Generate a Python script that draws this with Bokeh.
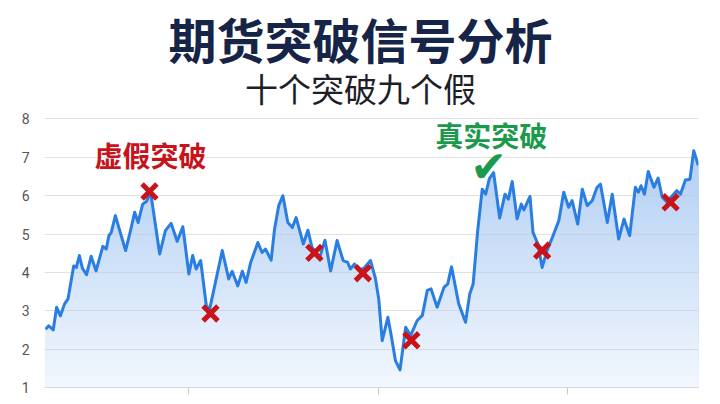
import numpy as np
from bokeh.plotting import figure
from bokeh.models import Range1d, FixedTicker
from bokeh.core.properties import value
from bokeh.embed import file_html
from bokeh.resources import INLINE

# ---- data ----
days = [0.3, 1.1, 2.3, 3.2, 4.2, 5.3, 6.2, 7.7, 8.4, 9.2, 10.0, 11.1, 12.3, 13.6, 15.4, 16.3,
        17.0, 17.6, 18.7, 21.4, 22.7, 23.8, 24.7, 25.9, 26.9, 28.0, 30.4, 31.9, 33.4, 35.0,
        36.5, 38.1, 39.1, 40.0, 41.2, 42.7, 43.6, 46.9, 48.6, 49.5, 51.0, 52.2, 53.2, 54.4,
        56.3, 57.4, 58.3, 59.8, 60.7, 61.8, 62.9, 64.2, 65.4, 66.4, 68.3, 69.5, 70.6, 72.6,
        74.0, 75.5, 77.2, 78.8, 80.0, 80.7, 81.8, 82.9, 84.4, 86.0, 87.3, 88.2, 89.1, 90.6,
        91.5, 92.6, 93.8, 95.3, 96.6, 98.3, 99.7, 101.0, 102.0, 103.6, 105.4, 106.4, 107.4,
        109.3, 111.1, 112.2, 113.1, 114.3, 115.5, 116.4, 117.4, 118.5, 120.1, 121.5, 122.4,
        123.4, 124.7, 125.8, 126.5, 128.1, 128.9, 130.2, 131.3, 132.6, 134.0, 135.7, 137.0,
        138.3, 139.2, 140.7, 141.9, 143.2, 144.5, 145.8, 146.7, 148.5, 149.8, 151.5, 152.9,
        154.4, 155.9, 156.7, 157.4, 158.3, 159.3, 160.8, 161.9, 163.0, 164.1, 165.2, 166.8,
        167.8, 169.1, 170.3, 171.3, 172.5]
prices = [2.52, 2.61, 2.50, 3.09, 2.87, 3.18, 3.31, 4.17, 4.13, 4.44, 4.11, 3.94, 4.42, 4.04,
          4.68, 4.61, 4.96, 5.04, 5.48, 4.57, 5.09, 5.57, 5.30, 5.78, 5.85, 6.09, 4.48, 5.09,
          5.28, 4.81, 5.19, 3.96, 4.44, 4.09, 4.31, 3.13, 3.05, 4.57, 3.83, 4.03, 3.65, 4.03,
          3.74, 4.26, 4.78, 4.52, 4.61, 4.32, 5.13, 5.74, 6.00, 5.30, 5.17, 5.43, 4.74, 5.10,
          4.65, 4.39, 4.84, 4.04, 4.83, 4.31, 4.26, 4.09, 4.22, 4.05, 4.12, 4.31, 3.85, 3.30,
          2.22, 2.83, 2.35, 1.70, 1.46, 2.57, 2.35, 2.74, 2.88, 3.53, 3.57, 3.09, 3.61, 3.70,
          4.15, 3.18, 2.70, 3.44, 3.70, 5.09, 6.17, 6.04, 6.45, 6.60, 5.42, 6.04, 5.91, 6.37,
          5.40, 5.78, 5.63, 5.98, 5.04, 4.74, 4.13, 4.57, 4.91, 5.35, 6.09, 5.70, 5.87, 5.26,
          6.17, 5.74, 5.87, 6.22, 6.30, 5.30, 6.04, 4.87, 5.39, 4.96, 6.22, 6.09, 6.26, 6.04,
          6.63, 6.22, 6.46, 5.96, 5.85, 5.95, 6.13, 6.04, 6.41, 6.43, 7.17, 6.79]
false_days = [27.7, 43.8, 71.2, 84.0, 96.8, 131.3, 165.2]
false_prices = [6.11, 2.93, 4.51, 3.98, 2.23, 4.57, 5.83]
true_days = [117.2]
true_prices = [6.75]
y_ticks = [1, 2, 3, 4, 5, 6, 7, 8]
x_ticks = [38, 88, 138]
title = "期货突破信号分析"
subtitle = "十个突破九个假"
false_label = "虚假突破"
true_label = "真实突破"

LINE = "#2a7de1"
RED = "#c8131b"
GREEN = "#1c9a4c"
CJK = value("Noto Sans CJK SC")

p = figure(frame_width=654, frame_height=379,
           x_range=Range1d(0, 172.56), y_range=Range1d(1, 10.88),
           output_backend="svg", toolbar_location=None,
           min_border_left=44, min_border_right=14, min_border_top=8, min_border_bottom=9,
           background_fill_color="white", border_fill_color="white")
p.outline_line_color = None
p.xgrid.grid_line_color = None
p.ygrid.grid_line_color = None
p.yaxis.ticker = FixedTicker(ticks=y_ticks)
p.yaxis.axis_line_color = None
p.yaxis.major_tick_line_color = None
p.yaxis.minor_tick_line_color = None
p.yaxis.major_label_text_font_size = "14px"
p.yaxis.major_label_text_color = "#555555"
p.yaxis.major_label_text_font = "Roboto"
p.yaxis.major_label_standoff = 9

p.xaxis.ticker = FixedTicker(ticks=x_ticks)
p.xaxis.axis_line_color = "#d8d8d8"
p.xaxis.major_tick_line_color = "#c8c8c8"
p.xaxis.major_tick_out = 7
p.xaxis.major_tick_in = 0
p.xaxis.minor_tick_line_color = None
p.xaxis.major_label_overrides = {t: "" for t in x_ticks}
p.xaxis.major_label_text_font_size = "10px"
p.xaxis.major_label_standoff = 0

# ---- vertical gradient fill: darkest full area first, then lighter layers clipped below each level ----
x = np.array(days)
y = np.array(prices)
top_c = np.array([176, 206, 244])
bot_c = np.array([242, 247, 254])


def grad(v):
    t = min(max((v - 1.0) / 6.2, 0.0), 1.0)
    c = (bot_c + (top_c - bot_c) * t).round().astype(int)
    return "#%02x%02x%02x" % tuple(c)


step = 0.08
p.varea(x=x, y1=np.full_like(y, 1.0), y2=y, fill_color=grad(7.3))
for L in np.arange(7.3, 1.0, -step):
    p.varea(x=x, y1=np.full_like(y, 1.0), y2=np.minimum(y, L), fill_color=grad(L - step))

# grid lines over the fill
p.hspan(y=y_ticks, line_color="#c8c8c8", line_alpha=0.55, line_width=1)

p.line(x=x, y=y, line_color=LINE, line_width=3, line_join="round")

p.scatter(x=false_days, y=false_prices, marker="x", size=21, line_width=5, line_color=RED)
p.text(x=true_days, y=true_prices, text=["✔"], text_font=value("DejaVu Sans"),
       text_font_size="44px", text_color=GREEN, text_align="center", text_baseline="middle")

p.text(x=[28.0], y=[7.05], text=[false_label], text_font=CJK, text_font_size="28px",
       text_font_style="bold", text_color=RED, text_align="center", text_baseline="middle")
p.text(x=[117.9], y=[7.57], text=[true_label], text_font=CJK, text_font_size="28px",
       text_font_style="bold", text_color=GREEN, text_align="center", text_baseline="middle")

p.text(x=[83.4], y=[10.1], text=[title], text_font=CJK, text_font_size="48px",
       text_font_style="bold", text_color="#162447", text_align="center", text_baseline="middle")
p.text(x=[83.4], y=[8.8], text=[subtitle], text_font=CJK, text_font_size="33px",
       text_color="#1e1e28", text_align="center", text_baseline="middle")

open("out.html", "w").write(file_html(p, INLINE))
